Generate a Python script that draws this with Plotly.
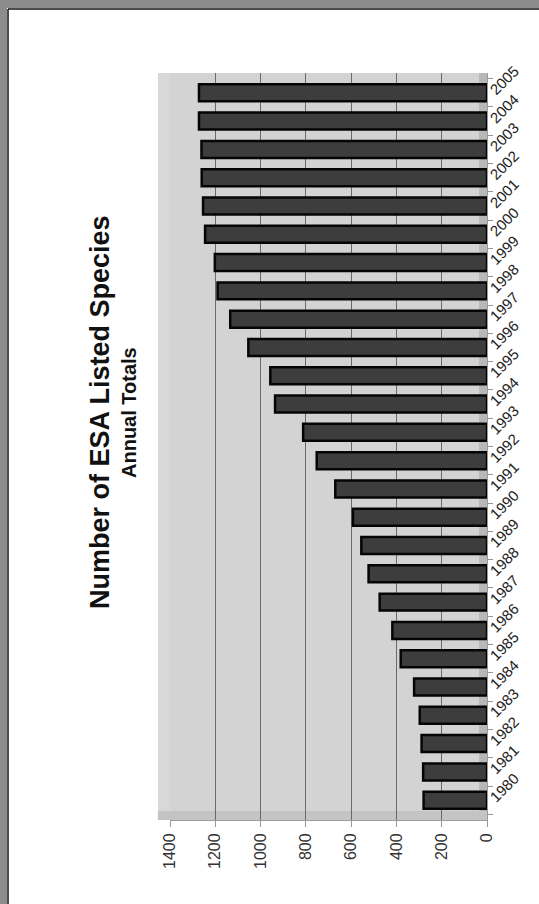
import plotly.graph_objects as go

years = [str(y) for y in range(1980, 2006)]
totals = [280, 282, 289, 297, 322, 381, 418, 474, 523, 555, 592, 670, 752,
          812, 936, 957, 1054, 1134, 1190, 1202, 1245, 1254, 1260, 1261, 1272, 1272]
value_ticks = [0, 200, 400, 600, 800, 1000, 1200, 1400]

title_text = "Number of ESA Listed Species"
subtitle_text = "Annual Totals"

W, H = 539, 904
L, R, T, B = 170, 52, 73, 84
PW, PH = W - L - R, H - T - B

fig = go.Figure()
fig.add_trace(go.Bar(
    x=totals, y=years, orientation="h",
    marker=dict(color="#3d3d3d", line=dict(color="#050505", width=2.5)),
    width=0.6, hoverinfo="x+y",
))

fig.update_layout(
    width=W, height=H,
    margin=dict(l=L, r=R, t=T, b=B, pad=0),
    paper_bgcolor="white", plot_bgcolor="#d3d3d3",
    showlegend=False,
    font=dict(family="Liberation Sans, Arial, sans-serif", color="#222"),
    xaxis=dict(
        range=[1400, 0], tickvals=value_ticks, ticktext=[str(v) for v in value_ticks],
        tickangle=-90, tickfont=dict(size=16, color="#333"),
        showgrid=True, gridcolor="#6a6a6a", gridwidth=1,
        zeroline=False, ticks="outside", ticklen=6, tickcolor="#999",
        showline=True, linecolor="#9a9a9a", linewidth=1,
    ),
    yaxis=dict(
        type="category", categoryorder="array", categoryarray=years,
        range=[-0.7, 25.7], side="right", tickangle=-45,
        tickfont=dict(size=15, color="#222"),
        showgrid=False, zeroline=False, ticks="outside", ticklen=5,
        tickcolor="#999", tickson="boundaries",
        showline=True, linecolor="#9a9a9a", linewidth=1,
    ),
)

# 3D-ish back wall extension and floor band
fig.add_shape(type="rect", xref="paper", yref="paper", x0=-0.038, x1=0, y0=0, y1=1,
              fillcolor="#d8d8d8", line=dict(width=0), layer="below")
fig.add_shape(type="rect", xref="paper", yref="paper", x0=0.975, x1=1.0, y0=0, y1=1,
              fillcolor="#b8b8b8", line=dict(width=0), layer="below")
fig.add_shape(type="rect", xref="paper", yref="paper", x0=-0.038, x1=1.0, y0=0, y1=0.012,
              fillcolor="#c4c4c4", line=dict(width=0), layer="below")

# scan frame at top and left
fig.add_shape(type="rect", xref="paper", yref="paper",
              x0=-L / PW, x1=1 + R / PW,
              y0=1 + (T - 8) / PH, y1=1 + T / PH,
              fillcolor="#8c8c8c", line=dict(width=0))
fig.add_shape(type="rect", xref="paper", yref="paper",
              x0=-L / PW, x1=-(L - 7) / PW,
              y0=-B / PH, y1=1 + T / PH,
              fillcolor="#8c8c8c", line=dict(width=0))
fig.add_shape(type="line", xref="paper", yref="paper",
              x0=-(L - 8) / PW, x1=1 + R / PW,
              y0=1 + (T - 9) / PH, y1=1 + (T - 9) / PH,
              line=dict(color="#111", width=1.5))
fig.add_shape(type="line", xref="paper", yref="paper",
              x0=-(L - 8) / PW, x1=-(L - 8) / PW,
              y0=-B / PH, y1=1 + (T - 9) / PH,
              line=dict(color="#111", width=1.5))

fig.add_annotation(text="<b>" + title_text + "</b>", textangle=-90,
                   xref="paper", yref="paper",
                   x=(100 - L) / PW, y=1 - (412 - T) / PH,
                   showarrow=False, font=dict(size=27, color="#111"),
                   xanchor="center", yanchor="middle")
fig.add_annotation(text="<b>" + subtitle_text + "</b>", textangle=-90,
                   xref="paper", yref="paper",
                   x=(129 - L) / PW, y=1 - (413 - T) / PH,
                   showarrow=False, font=dict(size=20, color="#111"),
                   xanchor="center", yanchor="middle")

fig.write_html("out.html", config={"displayModeBar": False})
with open("out.html", "r", encoding="utf-8") as f:
    html = f.read()
html = html.replace("<head>", "<head><style>body{margin:0;}</style>", 1)
with open("out.html", "w", encoding="utf-8") as f:
    f.write(html)
